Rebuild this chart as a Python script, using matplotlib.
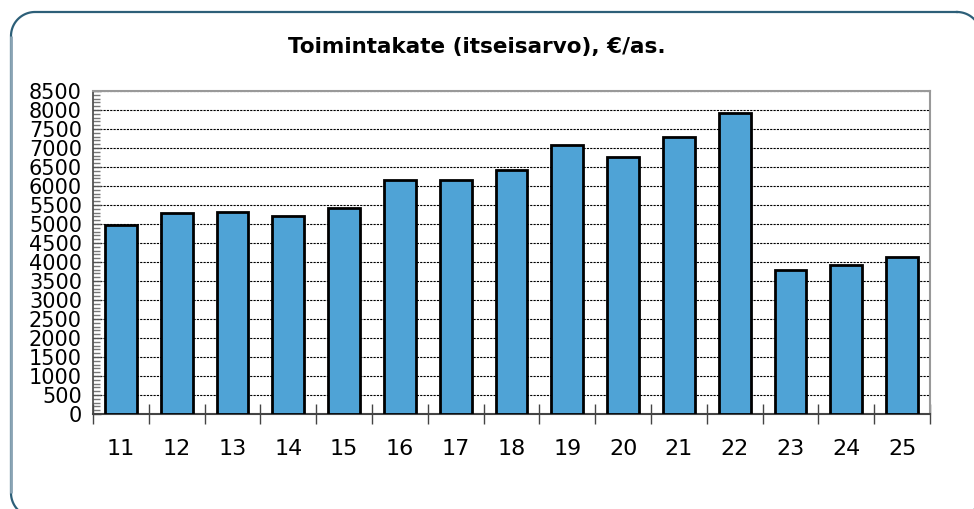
import matplotlib
matplotlib.use("Agg")
import matplotlib.pyplot as plt
from matplotlib.ticker import MultipleLocator, FixedLocator
import numpy as np

categories = ["11", "12", "13", "14", "15", "16", "17", "18", "19", "20", "21", "22", "23", "24", "25"]
values = [4980, 5290, 5310, 5210, 5420, 6160, 6170, 6420, 7080, 6760, 7300, 7930, 3780, 3930, 4130]
yticks = list(range(0, 8501, 500))
title = "Toimintakate (itseisarvo), €/as."

plt.rcParams['font.family'] = ['DejaVu Sans']
W, H = 974, 509
fig = plt.figure(figsize=(W / 100, H / 100), dpi=100)

# background axes in pixel coordinates for the rounded frame
bg = fig.add_axes([0, 0, 1, 1])
bg.set_xlim(0, W)
bg.set_ylim(H, 0)
bg.axis('off')


def rounded_rect(x0, y0, x1, y1, r, n=30):
    pts = []
    corners = [((x1 - r, y0 + r), -90, 0), ((x1 - r, y1 - r), 0, 90),
               ((x0 + r, y1 - r), 90, 180), ((x0 + r, y0 + r), 180, 270)]
    for (cx, cy), a0, a1 in corners:
        t = np.radians(np.linspace(a0, a1, n))
        pts.append(np.column_stack([cx + r * np.cos(t), cy + r * np.sin(t)]))
    p = np.vstack(pts + [pts[0][:1]])
    return p[:, 0], p[:, 1]


fx, fy = rounded_rect(11, 12, 981, 517, 24)
bg.plot(fx, fy, color="#2d5f78", linewidth=1.6)
bg.plot([11, 11], [36, 493], color="#8aa4b4", linewidth=2.0, solid_capstyle='butt')

ax = fig.add_axes([93 / W, 1 - 414 / H, (930 - 93) / W, (414 - 91) / H])
x = np.arange(len(categories))
ax.bar(x, values, width=0.57, color="#4fa3d6", edgecolor="black", linewidth=2.0, zorder=3)

ax.set_xlim(-0.5, len(categories) - 0.5)
ax.set_ylim(0, 8500)
ax.set_yticks(yticks)
ax.set_yticklabels([str(v) for v in yticks], fontsize=15)
ax.yaxis.set_minor_locator(MultipleLocator(100))
ax.tick_params(axis='y', which='major', direction='in', length=6, width=1, color="#555555", pad=8)
ax.tick_params(axis='y', which='minor', direction='in', length=5, width=1, color="#777777")
ax.grid(axis='y', which='major', linestyle=(0, (2, 1)), color="black", linewidth=0.8, zorder=1)

ax.set_xticks(x)
ax.set_xticklabels(categories, fontsize=16)
ax.tick_params(axis='x', which='major', length=0, pad=18)
ax.xaxis.set_minor_locator(FixedLocator(np.arange(-0.5, len(categories), 1.0)))
ax.tick_params(axis='x', which='minor', direction='inout', length=14, width=1, color="#444444")

for s in ['top', 'right']:
    ax.spines[s].set_color("#999999")
    ax.spines[s].set_linewidth(1.5)
ax.spines['left'].set_color("#444444")
ax.spines['bottom'].set_color("#444444")
ax.spines['left'].set_linewidth(1.2)
ax.spines['bottom'].set_linewidth(1.5)

fig.text(0.49, 1 - 47 / H, title, ha='center', va='center', fontsize=15.5, fontweight='bold')

fig.savefig("out.png", dpi=100)
